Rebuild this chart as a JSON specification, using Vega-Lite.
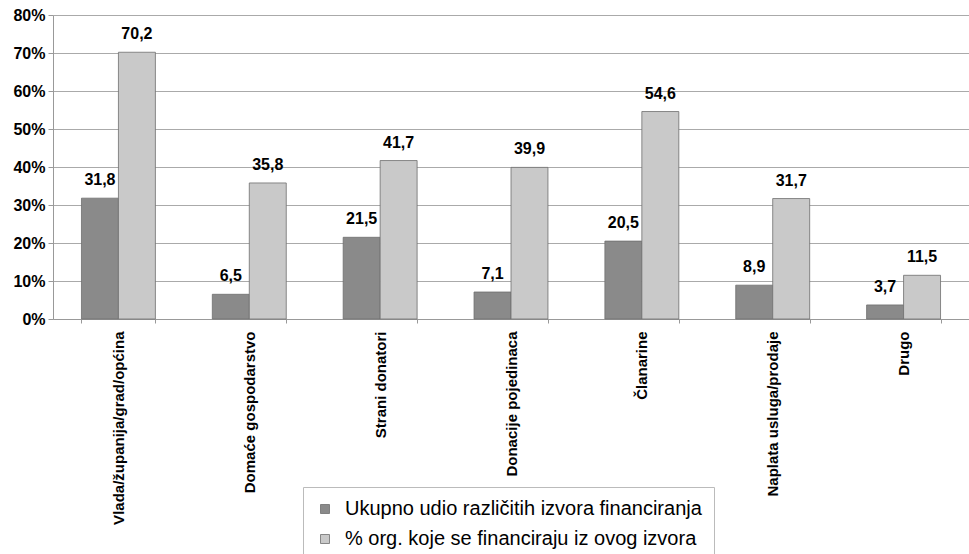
{
  "$schema": "https://vega.github.io/schema/vega-lite/v6.json",
  "width": 916,
  "height": 304,
  "autosize": {"type": "none"},
  "padding": {"left": 53, "top": 15, "right": 0, "bottom": 235},
  "background": "white",
  "config": {
    "font": "Liberation Sans",
    "view": {"stroke": null},
    "locale": {"number": {"decimal": ",", "thousands": ".", "grouping": [3], "currency": ["", " €"]}}
  },
  "data": {
    "values": [
      {"source": "Vlada/županija/grad/općina", "series": "Ukupno udio različitih izvora financiranja", "value": 31.8},
      {"source": "Vlada/županija/grad/općina", "series": "% org. koje se financiraju iz ovog izvora", "value": 70.2},
      {"source": "Domaće  gospodarstvo", "series": "Ukupno udio različitih izvora financiranja", "value": 6.5},
      {"source": "Domaće  gospodarstvo", "series": "% org. koje se financiraju iz ovog izvora", "value": 35.8},
      {"source": "Strani donatori", "series": "Ukupno udio različitih izvora financiranja", "value": 21.5},
      {"source": "Strani donatori", "series": "% org. koje se financiraju iz ovog izvora", "value": 41.7},
      {"source": "Donacije pojedinaca", "series": "Ukupno udio različitih izvora financiranja", "value": 7.1},
      {"source": "Donacije pojedinaca", "series": "% org. koje se financiraju iz ovog izvora", "value": 39.9},
      {"source": "Članarine", "series": "Ukupno udio različitih izvora financiranja", "value": 20.5},
      {"source": "Članarine", "series": "% org. koje se financiraju iz ovog izvora", "value": 54.6},
      {"source": "Naplata usluga/prodaje", "series": "Ukupno udio različitih izvora financiranja", "value": 8.9},
      {"source": "Naplata usluga/prodaje", "series": "% org. koje se financiraju iz ovog izvora", "value": 31.7},
      {"source": "Drugo", "series": "Ukupno udio različitih izvora financiranja", "value": 3.7},
      {"source": "Drugo", "series": "% org. koje se financiraju iz ovog izvora", "value": 11.5}
    ]
  },
  "encoding": {
    "x": {
      "field": "source",
      "type": "nominal",
      "sort": null,
      "scale": {"paddingInner": 0.435, "paddingOuter": 0.2175},
      "axis": {
        "title": null,
        "labelAngle": -90,
        "labelAlign": "right",
        "labelBaseline": "middle",
        "labelFont": "Liberation Sans",
        "labelFontSize": 15,
        "labelFontWeight": "bold",
        "labelColor": "black",
        "labelPadding": 8,
        "labelLimit": 300,
        "domainColor": "#999999",
        "tickColor": "#999999",
        "tickBand": "extent",
        "tickSize": 4
      }
    },
    "xOffset": {"field": "series", "type": "nominal", "sort": ["Ukupno udio različitih izvora financiranja", "% org. koje se financiraju iz ovog izvora"], "scale": {"paddingInner": 0}},
    "y": {
      "field": "value",
      "type": "quantitative",
      "scale": {"domain": [0, 80], "nice": false},
      "axis": {
        "title": null,
        "values": [0, 10, 20, 30, 40, 50, 60, 70, 80],
        "labelExpr": "datum.value + '%'",
        "labelFont": "Liberation Sans",
        "labelFontSize": 16,
        "labelFontWeight": "bold",
        "labelColor": "black",
        "labelPadding": 3,
        "domainColor": "#999999",
        "tickColor": "#999999",
        "tickSize": 5,
        "gridColor": "#aaaaaa",
        "gridWidth": 1
      }
    }
  },
  "layer": [
    {
      "mark": {"type": "bar", "stroke": "#6e6e6e", "strokeWidth": 0.8},
      "encoding": {
        "color": {
          "field": "series",
          "type": "nominal",
          "sort": ["Ukupno udio različitih izvora financiranja", "% org. koje se financiraju iz ovog izvora"],
          "scale": {"range": ["#8a8a8a", "#c9c9c9"]},
          "legend": {
            "title": null,
            "orient": "none",
            "legendX": 250,
            "legendY": 472,
            "direction": "vertical",
            "symbolType": "square",
            "symbolSize": 81,
            "symbolStrokeColor": "#6e6e6e",
            "symbolStrokeWidth": 0.8,
            "labelFont": "Liberation Sans",
            "labelFontSize": 20,
            "labelColor": "black",
            "labelOffset": 10,
            "labelLimit": 500,
            "rowPadding": 10,
            "padding": 12,
            "strokeColor": "#bbbbbb",
            "fillColor": "white"
          }
        }
      }
    },
    {
      "mark": {"type": "text", "baseline": "alphabetic", "dy": -13, "font": "Liberation Sans", "fontSize": 16, "fontWeight": "bold", "color": "black"},
      "encoding": {
        "text": {"field": "value", "type": "quantitative", "format": ".1f"}
      }
    }
  ]
}
